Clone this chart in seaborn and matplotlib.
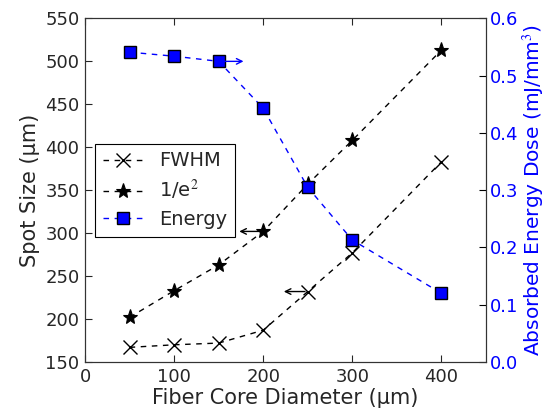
import numpy as np
import pandas as pd
import seaborn as sns
import matplotlib
matplotlib.use("Agg")
import matplotlib.pyplot as plt

sns.set_style("ticks")
plt.rcParams['font.family'] = ['DejaVu Sans']
plt.rcParams['mathtext.fontset'] = 'stix'

diameter = [50, 100, 150, 200, 250, 300, 400]
fwhm = [167, 170, 172, 187, 232, 277, 383]
one_e2 = [202, 233, 263, 302, 357, 408, 513]
energy = [0.541, 0.534, 0.525, 0.443, 0.305, 0.213, 0.120]

df = pd.DataFrame({"d": diameter, "fwhm": fwhm, "e2": one_e2, "energy": energy})

fig, ax = plt.subplots(figsize=(5.49, 4.09), dpi=100)
ax2 = ax.twinx()

dash = (4, 4)
sns.lineplot(data=df, x="d", y="fwhm", ax=ax, color="black", dashes=False, lw=1.0,
             marker="x", markersize=10, markeredgewidth=1.0, markeredgecolor="black",
             label="FWHM", legend=False)
sns.lineplot(data=df, x="d", y="e2", ax=ax, color="black", dashes=False, lw=1.0,
             marker="*", markersize=11, markeredgewidth=0.8, markeredgecolor="black",
             label="1/e$^2$", legend=False)
sns.lineplot(data=df, x="d", y="energy", ax=ax2, color="blue", dashes=False, lw=1.0,
             marker="s", markersize=9, markerfacecolor="blue", markeredgecolor="black",
             markeredgewidth=1.0, label="Energy", legend=False)
for line in ax.lines + ax2.lines:
    line.set_dashes(dash)

# arrows pointing to the axis each series belongs to
ax2.annotate("", xy=(181, 0.525), xytext=(150, 0.525),
             arrowprops=dict(arrowstyle="->", color="blue", lw=1.0))
ax.annotate("", xy=(170, 302), xytext=(200, 302),
            arrowprops=dict(arrowstyle="->", color="black", lw=1.0))
ax.annotate("", xy=(220, 232), xytext=(250, 232),
            arrowprops=dict(arrowstyle="->", color="black", lw=1.0))

ax.set_xlim(0, 450)
ax.set_ylim(150, 550)
ax2.set_ylim(0, 0.6)
ax.set_xticks([0, 100, 200, 300, 400])
ax.set_yticks(np.arange(150, 551, 50))
ax2.set_yticks(np.arange(0, 0.61, 0.1))

ax.set_xlabel("Fiber Core Diameter (µm)", fontsize=15, labelpad=2)
ax.set_ylabel("Spot Size (µm)", fontsize=15, labelpad=4)
ax2.set_ylabel("Absorbed Energy Dose (mJ/mm$^3$)", fontsize=14.5, color="blue", labelpad=2)

ax.tick_params(direction="in", labelsize=13, top=True, length=5, pad=4)
ax2.tick_params(direction="in", labelsize=13, colors="blue", length=5, pad=3)
ax2.tick_params(axis="y", color="black")
for a in (ax, ax2):
    for s in a.spines.values():
        s.set_color("#333333")

h1, l1 = ax.get_legend_handles_labels()
h2, l2 = ax2.get_legend_handles_labels()
leg = ax.legend(h1 + h2, l1 + l2, loc="center left", bbox_to_anchor=(0.0, 0.5),
                fontsize=14, fancybox=False, edgecolor="black", framealpha=1,
                handlelength=2.1, borderpad=0.4, labelspacing=0.4)
leg.get_frame().set_linewidth(0.8)

plt.subplots_adjust(left=0.155, right=0.885, bottom=0.115, top=0.955)
plt.savefig("out.png", dpi=100)
